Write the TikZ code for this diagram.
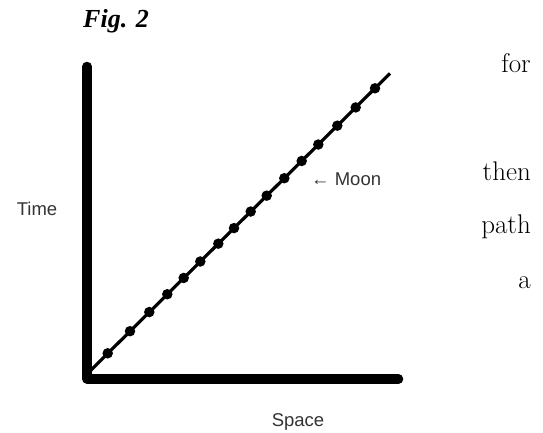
\documentclass[tikz,border=0pt]{standalone}
\usepackage{fontspec}
\newfontfamily\labelfont{Liberation Sans}
\newfontfamily\figfont{Liberation Serif}
\begin{document}
\begin{tikzpicture}[x=1pt,y=-1pt,
  axis/.style={line width=9.5pt,line cap=round,line join=round},
  pathline/.style={line width=3.2pt},
  dotmark/.style={circle,fill=black,inner sep=0pt,minimum size=10.5pt},
  lbl/.style={font=\labelfont\fontsize{18.5}{20}\selectfont,inner sep=0pt,text=black!80},
  body/.style={font=\fontsize{27}{29}\selectfont,inner sep=0pt,anchor=base east},
  figlbl/.style={font=\figfont\bfseries\itshape\fontsize{26}{28}\selectfont,inner sep=0pt,anchor=base west}]
\useasboundingbox (0,0) rectangle (543,433);
% axes
\coordinate (top) at (87,66.5);
\coordinate (origin) at (87,379);
\coordinate (right) at (398.5,379);
\draw[axis] (top) -- (origin) -- (right);
% world line
\coordinate (start) at (88,373);
\coordinate (end) at (390,73.4);
\draw[pathline] (start) -- (end);
\foreach \i/\px in {1/107.7,2/130,3/149.3,4/167.3,5/183.7,6/200.3,7/218.3,8/234,9/250.7,10/266.7,11/284.3,12/301.7,13/318.3,14/337.3,15/355.7,16/375}{
  \node[dotmark] (d\i) at (\px,{353.3-0.9914*(\px-107.7)}) {};
}
% labels
\node[lbl,anchor=base] (time) at (37,215) {Time};
\node[lbl,anchor=base] (space) at (298,426) {Space};
\node[lbl,anchor=base west] (moon) at (311,185.5) {← Moon};
\node[figlbl] (fig) at (83,28) {Fig. 2};
% body text
\node[body] (w1) at (531,73) {for};
\node[body] (w2) at (531,180) {then};
\node[body] (w3) at (531,233) {path};
\node[body] (w4) at (531,288) {a};
\end{tikzpicture}
\end{document}
